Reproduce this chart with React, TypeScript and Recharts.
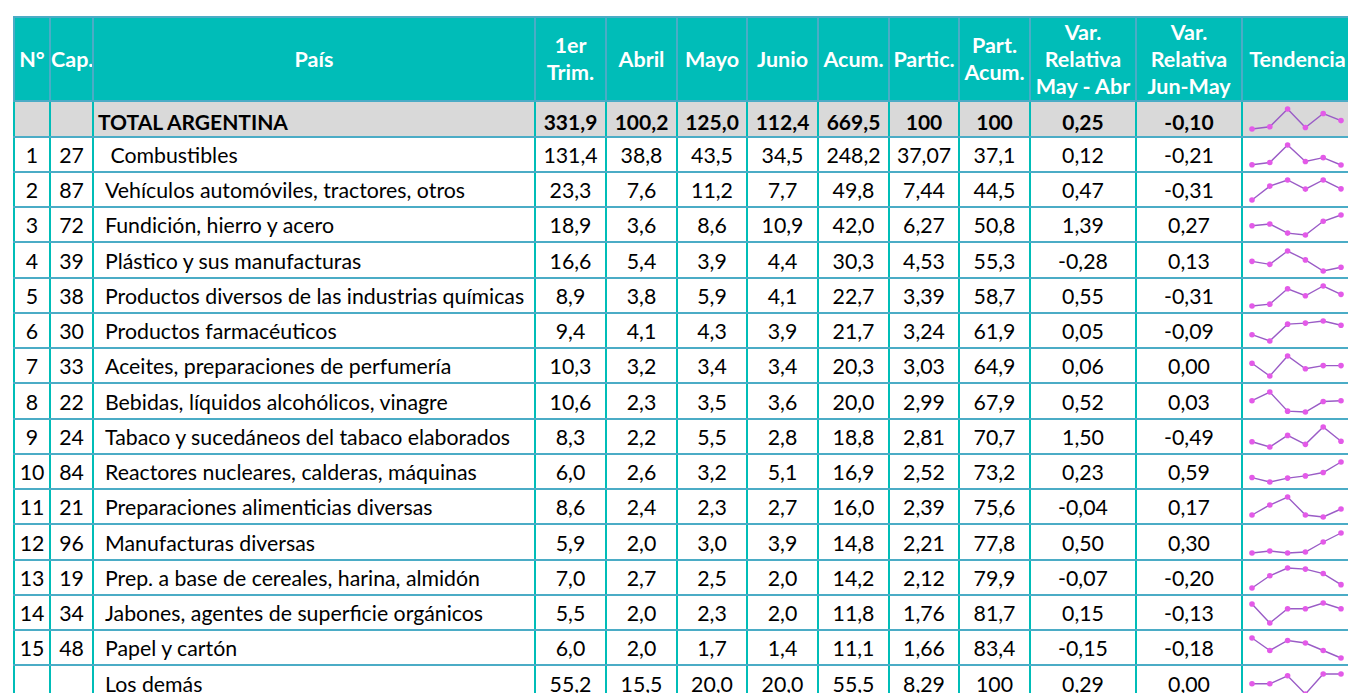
import React from 'react'
import { LineChart, Line, XAxis, YAxis } from 'recharts'

const meses = ['Ene', 'Feb', 'Mar', 'Abr', 'May', 'Jun']

const numeros = ['', '1', '2', '3', '4', '5', '6', '7', '8', '9', '10', '11', '12', '13', '14', '15', '']
const capitulos = ['', '27', '87', '72', '39', '38', '30', '33', '22', '24', '84', '21', '96', '19', '34', '48', '']
const paises = [
  'TOTAL ARGENTINA',
  ' Combustibles',
  'Vehículos automóviles, tractores, otros',
  'Fundición, hierro y acero',
  'Plástico y sus manufacturas',
  'Productos diversos de las industrias químicas',
  'Productos farmacéuticos',
  'Aceites, preparaciones de perfumería',
  'Bebidas, líquidos alcohólicos, vinagre',
  'Tabaco y sucedáneos del tabaco elaborados',
  'Reactores nucleares, calderas, máquinas',
  'Preparaciones alimenticias diversas',
  'Manufacturas diversas',
  'Prep. a base de cereales, harina, almidón',
  'Jabones, agentes de superficie orgánicos',
  'Papel y cartón',
  'Los demás',
]

const primerTrim = [331.9, 131.4, 23.3, 18.9, 16.6, 8.9, 9.4, 10.3, 10.6, 8.3, 6.0, 8.6, 5.9, 7.0, 5.5, 6.0, 55.2]
const abril = [100.2, 38.8, 7.6, 3.6, 5.4, 3.8, 4.1, 3.2, 2.3, 2.2, 2.6, 2.4, 2.0, 2.7, 2.0, 2.0, 15.5]
const mayo = [125.0, 43.5, 11.2, 8.6, 3.9, 5.9, 4.3, 3.4, 3.5, 5.5, 3.2, 2.3, 3.0, 2.5, 2.3, 1.7, 20.0]
const junio = [112.4, 34.5, 7.7, 10.9, 4.4, 4.1, 3.9, 3.4, 3.6, 2.8, 5.1, 2.7, 3.9, 2.0, 2.0, 1.4, 20.0]
const acumulado = [669.5, 248.2, 49.8, 42.0, 30.3, 22.7, 21.7, 20.3, 20.0, 18.8, 16.9, 16.0, 14.8, 14.2, 11.8, 11.1, 55.5]
const particip = [100, 37.07, 7.44, 6.27, 4.53, 3.39, 3.24, 3.03, 2.99, 2.81, 2.52, 2.39, 2.21, 2.12, 1.76, 1.66, 8.29]
const partAcum = [100, 37.1, 44.5, 50.8, 55.3, 58.7, 61.9, 64.9, 67.9, 70.7, 73.2, 75.6, 77.8, 79.9, 81.7, 83.4, 100]
const varMayAbr = [0.25, 0.12, 0.47, 1.39, -0.28, 0.55, 0.05, 0.06, 0.52, 1.5, 0.23, -0.04, 0.5, -0.07, 0.15, -0.15, 0.29]
const varJunMay = [-0.1, -0.21, -0.31, 0.27, 0.13, -0.31, -0.09, 0.0, 0.03, -0.49, 0.59, 0.17, 0.3, -0.2, -0.13, -0.18, 0.0]

// meses del 1er trimestre, estimados desde las líneas de tendencia
const enero = [97.5, 34.8, 3.3, 7.0, 5.2, 1.6, 3.0, 3.55, 3.6, 2.7, 2.3, 2.4, 1.9, 1.85, 2.25, 2.2, 17.8]
const febrero = [101.4, 37.6, 8.8, 7.6, 4.8, 2.0, 2.4, 2.75, 4.6, 1.7, 1.5, 2.9, 2.1, 2.4, 1.25, 1.7, 17.8]
const marzo = [133.0, 59.0, 11.2, 4.3, 6.6, 5.3, 4.0, 4.0, 2.4, 3.9, 2.2, 3.3, 1.9, 2.75, 2.0, 2.1, 19.6]

const encabezados = ['N°', 'Cap.', 'País', '1er\nTrim.', 'Abril', 'Mayo', 'Junio', 'Acum.', 'Partic.', 'Part.\nAcum.', 'Var.\nRelativa\nMay - Abr', 'Var.\nRelativa\nJun-May', 'Tendencia']
const anchos = [36, 43, 442, 71, 71, 70, 71, 71, 70, 71, 106, 106, 111]

const TEAL = '#00BDB8'
const BLUE = '#4BACC6'

const fmt = (v: number, d: number) => (v === 100 ? '100' : v.toFixed(d).replace('.', ','))

const Sparkline = ({ i }: { i: number }) => {
  const vals = [enero[i], febrero[i], marzo[i], abril[i], mayo[i], junio[i]]
  const data = meses.map((m, k) => ({ mes: m, v: vals[k] }))
  return (
    <LineChart width={110} height={33} data={data} margin={{ top: 7, right: 12, bottom: 6, left: 9 }}>
      <XAxis dataKey="mes" hide />
      <YAxis hide domain={['dataMin', 'dataMax']} />
      <Line
        type="linear"
        dataKey="v"
        stroke="#9A5CC6"
        strokeWidth={1.4}
        dot={{ r: 2.8, fill: '#E35AE8', stroke: 'none' }}
        isAnimationActive={false}
      />
    </LineChart>
  )
}

export default function App() {
  const cell: React.CSSProperties = {
    borderLeft: `2px solid ${TEAL}`,
    borderRight: `2px solid ${TEAL}`,
    borderTop: `2px solid ${BLUE}`,
    borderBottom: `2px solid ${BLUE}`,
    padding: 0,
    textAlign: 'center',
    whiteSpace: 'pre',
    overflow: 'hidden',
  }
  return (
    <div style={{ position: 'fixed', left: 0, top: 0, width: 1348, height: 693, overflow: 'hidden', background: '#fff' }}>
      <div style={{ position: 'absolute', left: 13, top: 16, width: 1420 }}>
        <table
          style={{
            borderCollapse: 'collapse',
            tableLayout: 'fixed',
            width: anchos.reduce((a, b) => a + b, 0),
            fontFamily: 'Lato, sans-serif',
            fontSize: 21.3,
            color: '#000',
          }}
        >
          <colgroup>
            {anchos.map((w, k) => (
              <col key={k} style={{ width: w }} />
            ))}
          </colgroup>
          <thead>
            <tr style={{ height: 84 }}>
              {encabezados.map((h, k) => (
                <th
                  key={k}
                  style={{
                    ...cell,
                    border: `2px solid ${BLUE}`,
                    background: TEAL,
                    color: '#fff',
                    fontWeight: 700,
                    fontSize: 21.5,
                    lineHeight: '27px',
                    whiteSpace: 'pre-line',
                  }}
                >
                  {h}
                </th>
              ))}
            </tr>
          </thead>
          <tbody>
            {paises.map((p, i) => {
              const total = i === 0
              const row: React.CSSProperties = {
                ...cell,
                background: total ? '#D9D9D9' : '#fff',
                fontWeight: total ? 700 : 400,
                fontSize: total ? 21 : 21.3,
                paddingTop: total ? 5 : 1,
              }
              const vals = [
                fmt(primerTrim[i], 1),
                fmt(abril[i], 1),
                fmt(mayo[i], 1),
                fmt(junio[i], 1),
                fmt(acumulado[i], 1),
                fmt(particip[i], 2),
                fmt(partAcum[i], 1),
                varMayAbr[i].toFixed(2).replace('.', ','),
                varJunMay[i].toFixed(2).replace('.', ','),
              ]
              return (
                <tr key={i} style={{ height: total ? 35.7 : 35.25 }}>
                  <td style={row}>{numeros[i]}</td>
                  <td style={row}>{capitulos[i]}</td>
                  <td style={{ ...row, textAlign: 'left', paddingLeft: total ? 4 : 11 }}>{p}</td>
                  {vals.map((v, k) => (
                    <td key={k} style={row}>
                      {v}
                    </td>
                  ))}
                  <td style={{ ...row, paddingTop: 0, verticalAlign: 'middle' }}>
                    <Sparkline i={i} />
                  </td>
                </tr>
              )
            })}
          </tbody>
        </table>
      </div>
    </div>
  )
}
